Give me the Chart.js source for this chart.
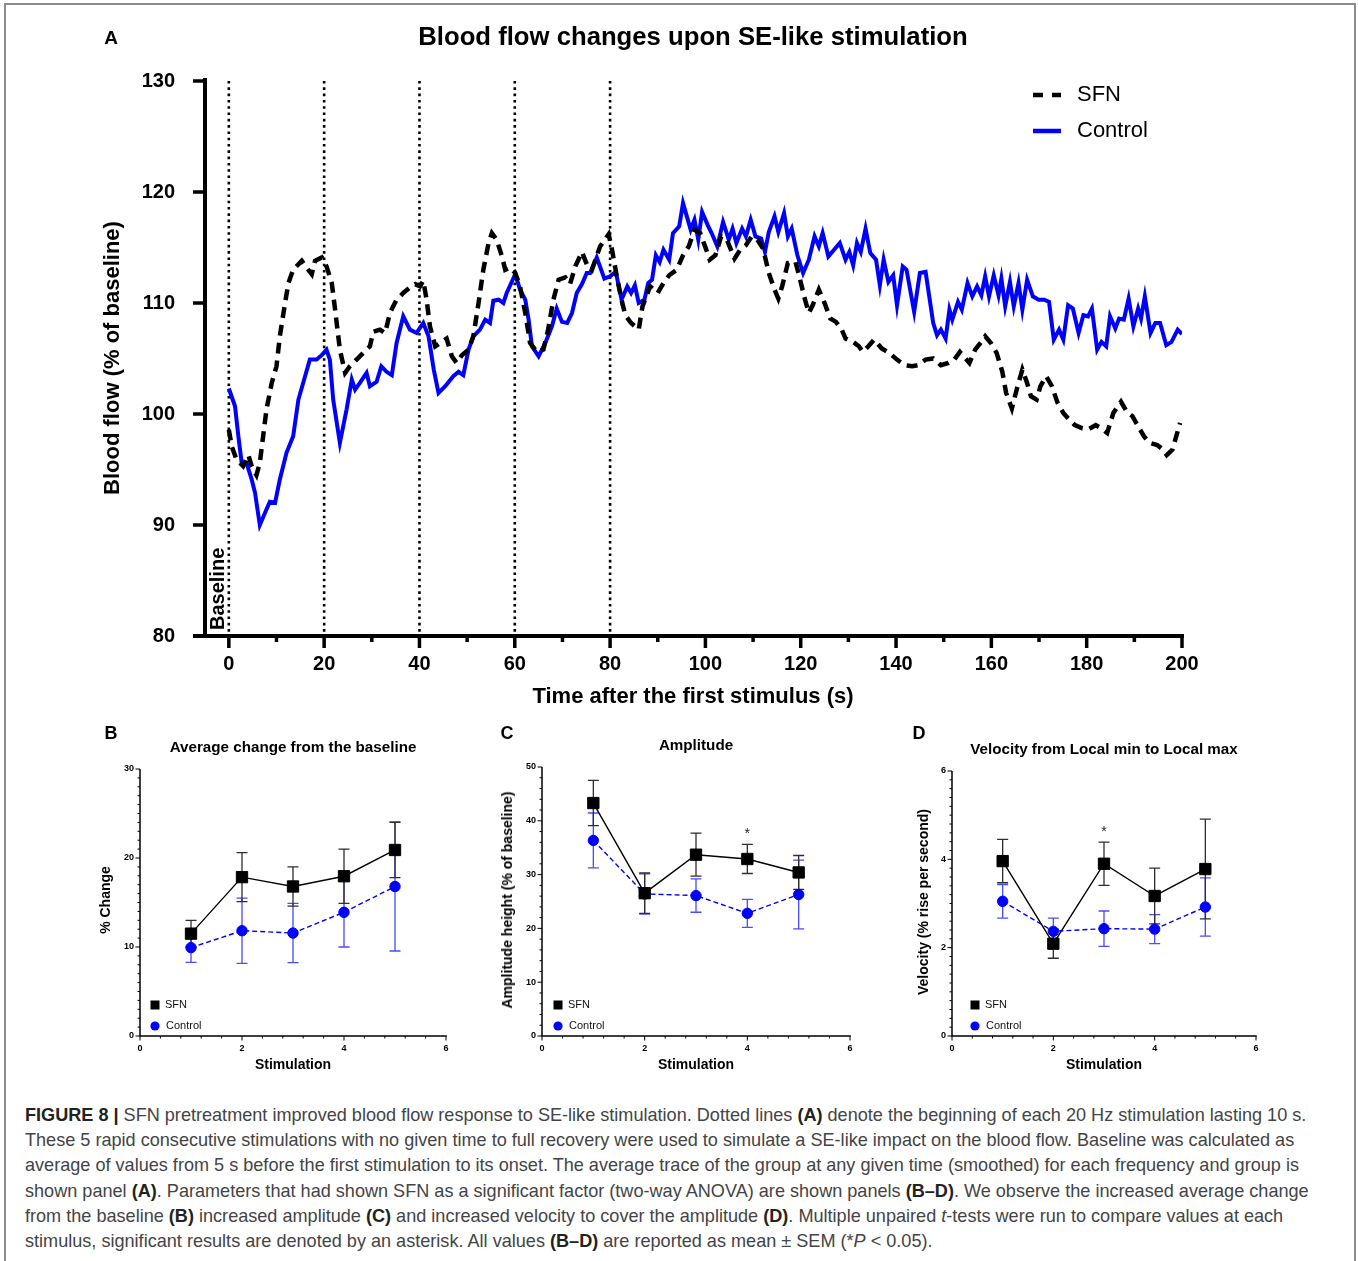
<!DOCTYPE html>
<html>
<head>
<meta charset="utf-8">
<script src="https://cdn.jsdelivr.net/npm/chart.js@4.4.1/dist/chart.umd.min.js"></script>
<style>
html, body { margin: 0; padding: 0; background: #fff; }
body { width: 1358px; height: 1261px; position: relative; overflow: hidden; font-family: "Liberation Sans", Arial, sans-serif; color: #000; }
#frame { position: absolute; left: 4px; top: 3px; width: 1352px; height: 1280px; border: 2px solid #8c8c8c; box-sizing: border-box; }
canvas { position: absolute; }
.t { position: absolute; white-space: nowrap; line-height: 1; transform: translate(-50%, -50%); font-weight: bold; }
.r { transform: translate(-50%, -50%) rotate(-90deg); }
#caption { position: absolute; left: 25px; top: 1103px; font-size: 18.1px; line-height: 25.2px; color: #444; white-space: nowrap; }
#caption b { color: #222; }
</style>
</head>
<body>
<div id="frame"></div>

<canvas id="chartA" width="1358" height="720" style="left:0;top:0"></canvas>
<canvas id="chartB" width="380" height="320" style="left:90px;top:755px"></canvas>
<canvas id="chartC" width="380" height="320" style="left:490px;top:755px"></canvas>
<canvas id="chartD" width="380" height="320" style="left:900px;top:755px"></canvas>

<div class="t" style="left:111px;top:37px;font-size:19px">A</div>
<div class="t" style="left:693px;top:37px;font-size:25.7px">Blood flow changes upon SE-like stimulation</div>
<div class="t r" style="left:112px;top:358px;font-size:22px">Blood flow (% of baseline)</div>
<div class="t" style="left:693px;top:696px;font-size:22px">Time after the first stimulus (s)</div>

<div class="t" style="left:111px;top:733px;font-size:18px">B</div>
<div class="t" style="left:293px;top:747px;font-size:15.2px">Average change from the baseline</div>
<div class="t r" style="left:105px;top:900px;font-size:14px">% Change</div>
<div class="t" style="left:293px;top:1064px;font-size:14px">Stimulation</div>

<div class="t" style="left:507px;top:733px;font-size:18px">C</div>
<div class="t" style="left:696px;top:745px;font-size:15.2px">Amplitude</div>
<div class="t r" style="left:507px;top:900px;font-size:14px">Amplitude height (% of baseline)</div>
<div class="t" style="left:696px;top:1064px;font-size:14px">Stimulation</div>

<div class="t" style="left:919px;top:733px;font-size:18px">D</div>
<div class="t" style="left:1104px;top:749px;font-size:15.2px">Velocity from Local min to Local max</div>
<div class="t r" style="left:923px;top:902px;font-size:14px">Velocity (% rise per second)</div>
<div class="t" style="left:1104px;top:1064px;font-size:14px">Stimulation</div>

<div id="caption">
<div><b>FIGURE 8 |</b> SFN pretreatment improved blood flow response to SE-like stimulation. Dotted lines <b>(A)</b> denote the beginning of each 20 Hz stimulation lasting 10 s.</div>
<div>These 5 rapid consecutive stimulations with no given time to full recovery were used to simulate a SE-like impact on the blood flow. Baseline was calculated as</div>
<div>average of values from 5 s before the first stimulation to its onset. The average trace of the group at any given time (smoothed) for each frequency and group is</div>
<div>shown panel <b>(A)</b>. Parameters that had shown SFN as a significant factor (two-way ANOVA) are shown panels <b>(B–D)</b>. We observe the increased average change</div>
<div>from the baseline <b>(B)</b> increased amplitude <b>(C)</b> and increased velocity to cover the amplitude <b>(D)</b>. Multiple unpaired <i>t</i>-tests were run to compare values at each</div>
<div>stimulus, significant results are denoted by an asterisk. All values <b>(B–D)</b> are reported as mean ± SEM (*<i>P</i> &lt; 0.05).</div>
</div>

<script>
// ---- Panel A: blood flow traces (time in s, flow in % of baseline)
const sfnTime = [0, 0.6, 1.6, 3, 4.1, 4.8, 5.8, 6.5, 7.2, 7.9, 9, 10, 10.7, 11.8, 12.5, 13.5, 15.3, 16.3, 17.4, 18.1, 19.5,
  20.5, 21.6, 22.3, 23.3, 24.4, 25.4, 26.8, 28.2, 29.6, 30.3, 31.7, 32.8, 33.8, 35.2, 36.6, 38, 39.1, 40.1, 40.8,
  41.5, 42.2, 43.3, 44.7, 45.7, 46.8, 47.8, 48.9, 50.3, 51.3, 52.4, 53.4, 54.5, 55.2, 56.2, 57.3, 58, 59, 60.1,
  61.1, 62.2, 63.2, 64.6, 66, 67, 68.1, 69.2, 70.6, 71.6, 72.7, 74.1, 75.1, 76.2, 77.9, 79.7, 80.4, 81.4, 82.4,
  83.2, 84.4, 86, 86.8, 88.4, 90, 91.2, 92.4, 94, 95.3, 96.5, 97.7, 98.9, 100.1, 100.9, 102.1, 103.3, 104.5,
  106.1, 107.3, 108.5, 109.7, 110.9, 112.1, 113.3, 114.5, 115.3, 116.1, 117.3, 118.9, 119.7, 120.9, 121.7,
  122.5, 123.8, 125, 126.2, 127.4, 128.6, 129.4, 131, 132.2, 133, 134.2, 135.4, 137, 138.6, 140.2, 141.8,
  143.4, 144.6, 146.2, 147.8, 149.4, 151, 152.2, 153.4, 154.6, 155.4, 156.6, 157.9, 158.7, 159.9, 161.1,
  162.3, 163.1, 164.3, 165.5, 166.5, 167.5, 168.3, 169.5, 170.3, 171.5, 172.7, 173.9, 175.1, 176.3, 177.5,
  179.1, 180.3, 181.9, 183.1, 184.3, 185.6, 187.2, 188.4, 189.6, 190.8, 192, 193.2, 194.8, 196, 196.8, 198,
  198.8, 199.6];
const sfnFlow = [98.6, 97.1, 95.9, 95.3, 96.3, 95.3, 94.5, 95.6, 98.0, 100.4, 102.8, 104.3, 107.0, 110.0, 111.8, 113.0,
  113.8, 113.2, 112.6, 113.8, 114.1, 113.3, 111.8, 109.4, 105.8, 103.7, 104.3, 104.9, 105.5, 106.1, 107.4, 107.6,
  107.3, 109.1, 110.3, 110.9, 111.4, 111.7, 111.5, 112.0, 110.3, 107.9, 106.1, 106.5, 106.8, 105.2, 104.6, 105.3,
  105.8, 107.0, 110.0, 113.0, 115.4, 116.3, 115.7, 114.2, 113.0, 113.2, 112.7, 111.5, 109.1, 106.4, 105.6, 105.8,
  107.6, 110.3, 112.1, 112.3, 111.7, 113.3, 114.6, 113.5, 113.0, 115.1, 116.2, 114.8, 112.4, 110.3, 108.9, 108.2,
  107.6, 109.7, 111.5, 110.9, 111.8, 112.5, 113.0, 114.3, 115.1, 116.6, 116.3, 114.9, 113.9, 114.3, 116.0, 115.7,
  114.0, 114.8, 115.2, 116.0, 115.7, 114.9, 112.7, 111.2, 110.4, 111.5, 113.6, 113.7, 112.4, 110.3, 109.1, 109.8,
  111.2, 110.0, 108.6, 108.3, 107.6, 106.8, 106.5, 106.1, 105.6, 106.1, 106.7, 105.9, 105.5, 104.9, 104.4, 104.3,
  104.4, 104.9, 105.0, 104.4, 104.6, 104.9, 105.6, 105.0, 104.6, 105.8, 106.5, 107.0, 106.4, 105.5, 103.8, 101.9,
  100.5, 102.5, 104.0, 102.8, 101.6, 101.3, 102.5, 103.4, 102.5, 101.0, 100.1, 99.5, 99.0, 98.7, 98.6, 99.0, 98.7,
  98.3, 100.1, 101.1, 100.2, 99.8, 98.9, 98.0, 97.4, 97.2, 96.8, 96.3, 96.8, 98.0, 99.2];

const ctrlTime = [0, 1.3, 2, 2.7, 3.7, 4.8, 5.5, 6.5, 7.6, 8.6, 9.7, 10.7, 12.1, 13.5, 14.6, 16, 17, 18.4, 19.5, 20.5,
  21.2, 21.9, 23.3, 24.7, 25.8, 26.5, 27.5, 28.9, 29.6, 31, 32, 33.1, 34.2, 35.2, 36.6, 38, 39.4, 40.8, 41.9, 43,
  44, 45.4, 47.1, 48.2, 49.2, 50.3, 51.3, 52.7, 53.8, 54.8, 55.5, 56.6, 57.6, 58.3, 60.1, 61.1, 62.2, 62.9, 63.6,
  65, 66.4, 67.8, 68.8, 69.9, 71, 72, 73, 74.1, 75.1, 75.8, 77.2, 78.8, 80, 81.2, 82.4, 83.6, 84.4, 85.2, 86,
  87.2, 88, 88.8, 89.6, 90.4, 91.2, 92.4, 93.2, 94.5, 95.3, 96.1, 96.9, 97.7, 98.5, 99.3, 100.5, 101.3, 102.5,
  103.7, 104.9, 105.7, 106.5, 107.7, 108.5, 109.5, 110.5, 111.7, 112.5, 113.3, 114.5, 115.3, 116.5, 117.3,
  118.1, 119.3, 120.5, 121.7, 122.9, 123.8, 124.6, 125.8, 127, 128.2, 129.4, 130.2, 131, 131.8, 132.6, 133.6,
  134.6, 135.8, 136.6, 137.4, 138.4, 139.4, 140.2, 141.4, 142.2, 143.8, 145, 146.2, 147.8, 148.6, 149.4, 150.4,
  151.2, 151.8, 153, 153.8, 155, 156, 157, 157.9, 158.7, 159.5, 160.5, 161.5, 162.1, 162.9, 163.9, 164.7, 165.7,
  166.5, 167.5, 168.7, 169.9, 171.1, 172.1, 173.1, 174.2, 175.1, 176.1, 177.1, 178.3, 179.3, 180.3, 181.1,
  182.2, 183.1, 184.1, 184.9, 186, 186.8, 187.8, 188.8, 189.8, 190.8, 191.4, 192.2, 193.4, 194.4, 195.4, 196.7,
  197.8, 199.1, 200];
const ctrlFlow = [102.3, 100.7, 98.0, 95.6, 95.6, 94.1, 92.9, 90.0, 91.1, 92.1, 92.0, 94.1, 96.5, 98.0, 101.3, 103.4,
  104.9, 104.9, 105.3, 105.8, 104.9, 101.3, 97.4, 100.4, 103.1, 102.2, 102.8, 103.7, 102.5, 102.9, 104.3, 103.8,
  103.5, 106.4, 108.8, 107.6, 107.3, 108.2, 107.0, 104.0, 101.9, 102.5, 103.4, 103.8, 103.5, 105.8, 107.0, 107.6,
  108.5, 108.2, 110.2, 110.3, 110.0, 110.9, 112.6, 111.2, 110.3, 108.5, 106.1, 105.2, 106.4, 107.9, 109.5, 108.3,
  108.2, 109.1, 110.9, 111.7, 112.7, 112.7, 114.1, 112.2, 112.4, 112.8, 110.3, 111.5, 110.9, 111.6, 110.0, 110.3,
  111.8, 112.1, 114.3, 113.7, 114.8, 113.9, 116.3, 116.9, 119.0, 117.8, 116.6, 117.5, 115.7, 118.2, 117.0, 116.3,
  115.1, 117.3, 115.7, 116.7, 115.4, 116.7, 116.0, 117.5, 116.0, 115.8, 114.6, 116.4, 117.8, 116.4, 118.1, 116.0,
  116.7, 114.3, 112.7, 113.9, 116.0, 115.1, 116.3, 114.2, 114.8, 115.4, 113.9, 114.6, 113.4, 115.4, 114.6, 116.7,
  114.5, 113.9, 111.6, 113.9, 111.9, 112.5, 109.8, 113.3, 113.0, 109.2, 112.7, 112.8, 108.2, 107.1, 107.6, 106.8,
  109.4, 108.5, 110.1, 109.4, 111.8, 110.6, 111.5, 110.7, 112.4, 110.6, 112.5, 110.7, 112.2, 109.7, 111.9, 109.7,
  111.8, 109.4, 112.1, 110.6, 110.3, 110.3, 110.1, 106.7, 107.6, 106.7, 109.8, 109.5, 107.3, 108.9, 108.8, 109.5,
  105.8, 106.5, 106.1, 108.8, 107.7, 108.6, 108.5, 110.4, 107.9, 109.5, 108.6, 110.6, 107.3, 108.2, 108.2, 106.2,
  106.5, 107.6, 107.2];

const stimOnsets = [0, 20, 40, 60, 80];
const timeTicks = [0, 20, 40, 60, 80, 100, 120, 140, 160, 180, 200];
const timeMinor = [10, 30, 50, 70, 90, 110, 130, 150, 170, 190];
const flowTicks = [80, 90, 100, 110, 120, 130];

// ---- Panels B-D: mean and SEM per stimulation
const stimNo = [1, 2, 3, 4, 5];
const stimTicks = [0, 2, 4, 6];
const stimMinor = [0.4, 0.8, 1.2, 1.6, 2.4, 2.8, 3.2, 3.6, 4.4, 4.8, 5.2, 5.6];

const changeSfn = [11.5, 17.85, 16.8, 17.95, 20.9];
const changeSfnSem = [1.5, 2.75, 2.2, 3.05, 3.1];
const changeCtrl = [9.93, 11.83, 11.57, 13.9, 16.8];
const changeCtrlSem = [1.65, 3.67, 3.33, 3.9, 7.25];
const changeTicks = [0, 10, 20, 30];

const ampSfn = [43.3, 26.55, 33.7, 32.9, 30.4];
const ampSfnSem = [4.2, 3.75, 4.0, 2.7, 3.15];
const ampCtrl = [36.35, 26.4, 26.1, 22.8, 26.3];
const ampCtrlSem = [5.1, 3.75, 3.1, 2.6, 6.4];
const ampTicks = [0, 10, 20, 30, 40, 50];

const velSfn = [3.96, 2.09, 3.90, 3.17, 3.78];
const velSfnSem = [0.49, 0.33, 0.49, 0.63, 1.13];
const velCtrl = [3.05, 2.37, 2.43, 2.42, 2.92];
const velCtrlSem = [0.38, 0.3, 0.4, 0.33, 0.66];
const velTicks = [0, 2, 4, 6];

const FONT = '"Liberation Sans", Arial, sans-serif';

function minorBetween(majors, parts) {
  const out = [];
  for (let i = 0; i < majors.length - 1; i++) {
    const step = (majors[i + 1] - majors[i]) / parts;
    for (let k = 1; k < parts; k++) out.push(majors[i] + k * step);
  }
  return out;
}

// axis lines and tick marks (major + minor)
const axesPlugin = {
  id: 'axes',
  afterDatasetsDraw(chart, args, o) {
    const { ctx, chartArea: a, scales: { x, y } } = chart;
    ctx.save();
    ctx.strokeStyle = '#000';
    ctx.lineCap = 'butt';
    ctx.lineWidth = o.tickWidth;
    ctx.beginPath();
    (o.xMajor || []).forEach(v => { const p = x.getPixelForValue(v); ctx.moveTo(p, a.bottom); ctx.lineTo(p, a.bottom + o.majorLen); });
    (o.xMinor || []).forEach(v => { const p = x.getPixelForValue(v); ctx.moveTo(p, a.bottom); ctx.lineTo(p, a.bottom + o.minorLen); });
    (o.yMajor || []).forEach(v => { const p = y.getPixelForValue(v); ctx.moveTo(a.left, p); ctx.lineTo(a.left - o.majorLen, p); });
    (o.yMinor || []).forEach(v => { const p = y.getPixelForValue(v); ctx.moveTo(a.left, p); ctx.lineTo(a.left - o.minorLen, p); });
    ctx.stroke();
    ctx.lineWidth = o.lineWidth;
    ctx.beginPath();
    ctx.moveTo(a.left - (o.extendLeft || 0), a.bottom);
    ctx.lineTo(a.right + o.lineWidth / 2, a.bottom);
    ctx.moveTo(a.left, a.bottom + o.lineWidth / 2);
    ctx.lineTo(a.left, a.top - (o.extendTop || 0));
    ctx.stroke();
    ctx.restore();
  }
};

// dotted stimulus lines, "Baseline" label and legend for panel A
const panelAPlugin = {
  id: 'panelA',
  beforeDatasetsDraw(chart) {
    const { ctx, chartArea: a, scales: { x } } = chart;
    ctx.save();
    ctx.strokeStyle = '#000';
    ctx.lineWidth = 2.6;
    ctx.setLineDash([2.6, 3.7]);
    stimOnsets.forEach(t => {
      const p = x.getPixelForValue(t);
      ctx.beginPath();
      ctx.moveTo(p, a.top);
      ctx.lineTo(p, a.bottom);
      ctx.stroke();
    });
    ctx.restore();
    ctx.save();
    ctx.translate(x.getPixelForValue(0) - 5, a.bottom - 6);
    ctx.rotate(-Math.PI / 2);
    ctx.font = 'bold 20px ' + FONT;
    ctx.fillStyle = '#000';
    ctx.textAlign = 'left';
    ctx.textBaseline = 'alphabetic';
    ctx.fillText('Baseline', 0, 0);
    ctx.restore();
  },
  afterDraw(chart) {
    const { ctx, chartArea: a } = chart;
    const lx = a.right - 149, tx = a.right - 105;
    ctx.save();
    ctx.lineWidth = 4.5;
    ctx.strokeStyle = '#000';
    ctx.setLineDash([10, 9]);
    ctx.beginPath(); ctx.moveTo(lx, a.top + 14); ctx.lineTo(lx + 28, a.top + 14); ctx.stroke();
    ctx.setLineDash([]);
    ctx.strokeStyle = '#0000ff';
    ctx.beginPath(); ctx.moveTo(lx, a.top + 50); ctx.lineTo(lx + 28, a.top + 50); ctx.stroke();
    ctx.font = '22px ' + FONT;
    ctx.fillStyle = '#000';
    ctx.textBaseline = 'middle';
    ctx.fillText('SFN', tx, a.top + 14);
    ctx.fillText('Control', tx, a.top + 50);
    ctx.restore();
  }
};

// SEM error bars, asterisks and legend for panels B-D
const errorPlugin = {
  id: 'errorBars',
  beforeDatasetsDraw(chart, args, o) {
    const { ctx, scales: { x, y } } = chart;
    ctx.save();
    ctx.lineWidth = o.lineWidth;
    chart.data.datasets.slice().reverse().forEach(ds => {
      if (!ds.sem) return;
      ctx.strokeStyle = ds.errColor;
      ds.data.forEach((pt, i) => {
        const px = x.getPixelForValue(pt.x);
        const top = y.getPixelForValue(pt.y + ds.sem[i]);
        const bot = y.getPixelForValue(pt.y - ds.sem[i]);
        ctx.beginPath();
        ctx.moveTo(px, top); ctx.lineTo(px, bot);
        ctx.moveTo(px - o.cap, top); ctx.lineTo(px + o.cap, top);
        ctx.moveTo(px - o.cap, bot); ctx.lineTo(px + o.cap, bot);
        ctx.stroke();
      });
    });
    ctx.restore();
  },
  afterDraw(chart, args, o) {
    const { ctx, chartArea: a, scales: { x, y } } = chart;
    const sfn = chart.data.datasets[0];
    ctx.save();
    ctx.fillStyle = '#222';
    ctx.font = '14px ' + FONT;
    ctx.textAlign = 'center';
    ctx.textBaseline = 'middle';
    (o.stars || []).forEach(s => {
      const i = stimNo.indexOf(s);
      const pt = sfn.data[i];
      ctx.fillText('*', x.getPixelForValue(pt.x), y.getPixelForValue(pt.y + sfn.sem[i]) - 10);
    });
    const lx = a.left + o.legendX;
    ctx.fillStyle = '#000';
    ctx.fillRect(lx - 4.5, a.bottom + o.legendY1 - 4.5, 9, 9);
    ctx.fillStyle = '#0000ff';
    ctx.beginPath(); ctx.arc(lx, a.bottom + o.legendY2, 4.6, 0, Math.PI * 2); ctx.fill();
    ctx.fillStyle = '#111';
    ctx.font = '11px ' + FONT;
    ctx.textAlign = 'left';
    ctx.fillText('SFN', lx + 10, a.bottom + o.legendY1);
    ctx.fillText('Control', lx + 11, a.bottom + o.legendY2);
    ctx.restore();
  }
};

new Chart(document.getElementById('chartA'), {
  type: 'line',
  data: {
    datasets: [
      { label: 'SFN', data: sfnTime.map((t, i) => ({ x: t, y: sfnFlow[i] })),
        borderColor: '#000', borderWidth: 4.5, borderDash: [11, 7], pointRadius: 0, tension: 0, fill: false },
      { label: 'Control', data: ctrlTime.map((t, i) => ({ x: t, y: ctrlFlow[i] })),
        borderColor: '#0000ff', borderWidth: 4, pointRadius: 0, tension: 0, fill: false }
    ]
  },
  plugins: [axesPlugin, panelAPlugin],
  options: {
    animation: false, responsive: false, events: [],
    layout: { padding: { top: 81, right: 176, left: 0, bottom: 0 } },
    plugins: {
      legend: { display: false }, tooltip: { enabled: false },
      axes: { lineWidth: 4, tickWidth: 3.5, majorLen: 12, minorLen: 6, extendLeft: 12, extendTop: 3,
              xMajor: timeTicks, xMinor: timeMinor, yMajor: flowTicks }
    },
    scales: {
      x: { type: 'linear', min: -5, max: 200,
        afterBuildTicks: s => { s.ticks = timeTicks.map(v => ({ value: v })); },
        afterFit: s => { s.height = 84; },
        grid: { display: false, drawTicks: false }, border: { display: false },
        ticks: { padding: 16, color: '#000', font: { family: FONT, size: 20, weight: 'bold' }, maxRotation: 0, autoSkip: false } },
      y: { type: 'linear', min: 80, max: 130,
        afterBuildTicks: s => { s.ticks = flowTicks.map(v => ({ value: v })); },
        afterFit: s => { s.width = 205; },
        grid: { display: false, drawTicks: false }, border: { display: false },
        ticks: { padding: 30, color: '#000', font: { family: FONT, size: 20, weight: 'bold' } } }
    }
  }
});

function statPanel(id, p) {
  return new Chart(document.getElementById(id), {
    type: 'line',
    data: {
      datasets: [
        { label: 'SFN', data: stimNo.map((s, i) => ({ x: s, y: p.sfn[i] })), sem: p.sfnSem, errColor: '#2e2e2e',
          borderColor: '#000', borderWidth: 1.4, tension: 0, pointStyle: 'rect', pointRadius: 8,
          pointBackgroundColor: '#000', pointBorderColor: '#000', pointBorderWidth: 1 },
        { label: 'Control', data: stimNo.map((s, i) => ({ x: s, y: p.ctrl[i] })), sem: p.ctrlSem, errColor: '#4b4bff',
          borderColor: '#0000ff', borderWidth: 1.4, borderDash: [5, 3], tension: 0, pointStyle: 'circle', pointRadius: 5.2,
          pointBackgroundColor: '#0000ff', pointBorderColor: '#0000ff', pointBorderWidth: 1 }
      ]
    },
    plugins: [axesPlugin, errorPlugin],
    options: {
      animation: false, responsive: false, events: [],
      layout: { padding: { top: p.top, right: p.right, left: 0, bottom: 0 } },
      plugins: {
        legend: { display: false }, tooltip: { enabled: false },
        axes: { lineWidth: 1.5, tickWidth: 1, majorLen: 4.5, minorLen: 2.5,
                xMajor: stimTicks, xMinor: stimMinor, yMajor: p.ticks, yMinor: minorBetween(p.ticks, p.minorParts) },
        errorBars: { lineWidth: 1.3, cap: 5.5, stars: p.stars, legendX: p.legendX, legendY1: -31, legendY2: -10 }
      },
      scales: {
        x: { type: 'linear', min: 0, max: 6,
          afterBuildTicks: s => { s.ticks = stimTicks.map(v => ({ value: v })); },
          afterFit: s => { s.height = 39; },
          grid: { display: false, drawTicks: false }, border: { display: false },
          ticks: { padding: 7, color: '#000', font: { family: FONT, size: 9, weight: 'bold' }, maxRotation: 0, autoSkip: false } },
        y: { type: 'linear', min: 0, max: p.ticks[p.ticks.length - 1],
          afterBuildTicks: s => { s.ticks = p.ticks.map(v => ({ value: v })); },
          afterFit: s => { s.width = p.yWidth; },
          grid: { display: false, drawTicks: false }, border: { display: false },
          ticks: { padding: 6, color: '#000', font: { family: FONT, size: 9, weight: 'bold' } } }
      }
    }
  });
}

statPanel('chartB', { sfn: changeSfn, sfnSem: changeSfnSem, ctrl: changeCtrl, ctrlSem: changeCtrlSem,
  ticks: changeTicks, minorParts: 10, stars: [], top: 14, right: 24, yWidth: 50, legendX: 15 });
statPanel('chartC', { sfn: ampSfn, sfnSem: ampSfnSem, ctrl: ampCtrl, ctrlSem: ampCtrlSem,
  ticks: ampTicks, minorParts: 5, stars: [4], top: 12, right: 20, yWidth: 52, legendX: 16 });
statPanel('chartD', { sfn: velSfn, sfnSem: velSfnSem, ctrl: velCtrl, ctrlSem: velCtrlSem,
  ticks: velTicks, minorParts: 10, stars: [3], top: 16, right: 24, yWidth: 52, legendX: 23 });
</script>
</body>
</html>
